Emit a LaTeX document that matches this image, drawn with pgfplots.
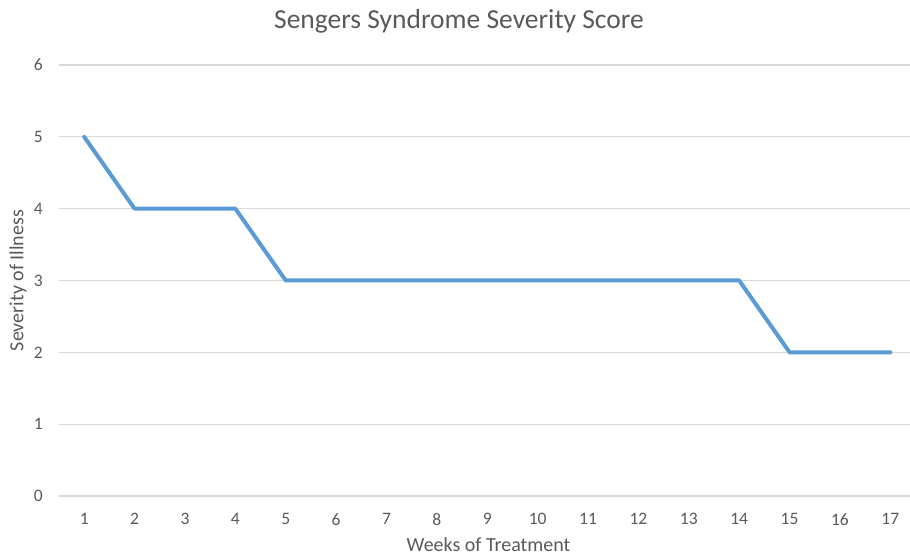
\documentclass[border=0pt]{standalone}
\usepackage{fontspec}
\setmainfont{Carlito}
\usepackage{pgfplots}
\pgfplotsset{compat=1.18}
\definecolor{linec}{HTML}{5B9BD5}
\definecolor{gridc}{HTML}{D9D9D9}
\definecolor{textc}{HTML}{595959}
\begin{document}
\begin{tikzpicture}
\path[use as bounding box] (-59bp,-61bp) rectangle (851bp,496bp);
\begin{axis}[
  scale only axis,
  width=851bp, height=431bp,
  xmin=0.5, xmax=17.39,
  ymin=0, ymax=6,
  xtick={1,...,17},
  ytick={0,...,6},
  axis line style={draw=none},
  tick style={draw=none},
  ymajorgrids,
  grid style={gridc, line width=1.3bp},
  /pgf/number format/assume math mode=true,
  ticklabel style={font=\fontsize{17.5bp}{20bp}\selectfont, text=textc, inner sep=0pt},
  xticklabel style={anchor=north, yshift=-17bp},
  yticklabel style={anchor=east, xshift=-16bp},
  xlabel={Weeks of Treatment},
  ylabel={Severity of Illness},
  label style={font=\fontsize{20bp}{23bp}\selectfont, text=textc},
  xlabel style={at={(axis description cs:0.5047,-0.1125)}, anchor=center},
  ylabel style={at={(axis description cs:-0.0482,0.5)}, anchor=center, rotate=0},
  title={Sengers Syndrome Severity Score},
  title style={font=\fontsize{27.5bp}{31bp}\selectfont, text=textc, at={(axis description cs:0.470,1.0882)}, anchor=center},
  clip=false,
]
\addplot[linec, line width=4bp, line join=round, line cap=round] coordinates {
(1,5) (2,4) (3,4) (4,4) (5,3) (6,3) (7,3) (8,3) (9,3) (10,3) (11,3) (12,3) (13,3) (14,3) (15,2) (16,2) (17,2)
};
\end{axis}
\end{tikzpicture}
\end{document}
